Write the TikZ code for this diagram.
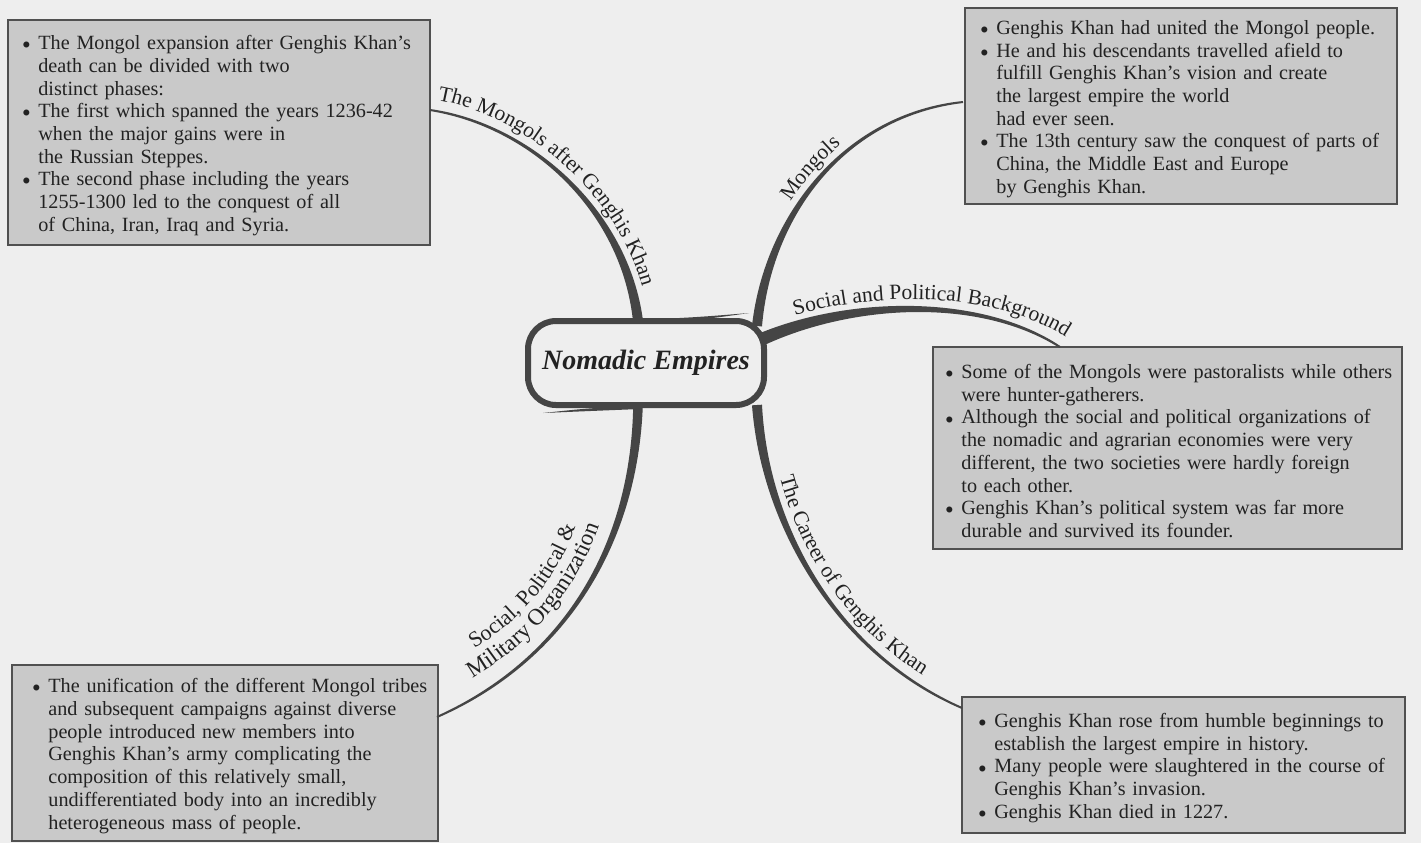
\documentclass[tikz,border=0pt]{standalone}
\usepackage{fontspec}
\setmainfont{Liberation Serif}
\usetikzlibrary{calc,decorations.text}
\definecolor{bgc}{HTML}{EEEEEE}
\definecolor{boxfill}{HTML}{C9C9C9}
\definecolor{boxline}{HTML}{505050}
\definecolor{branchc}{HTML}{454545}
\definecolor{txt}{HTML}{222222}
\newcommand\boxfont{\fontsize{10.1pt}{11.35pt}\selectfont}
\newcommand\labfont{\fontsize{10.8pt}{12pt}\selectfont}
\newcommand\bul{\makebox[8pt][l]{\raisebox{0.1ex}{$\scriptstyle\bullet$}}}
\newcommand\ind{\hspace*{8pt}}
% tapered branch: #1 thin end, #2 #3 controls, #4 thick end, #5-#8 half widths
\newcommand\taper[8]{%
  \fill[branchc] ($(#1)!#5!90:(#2)$) .. controls ($(#2)!#6!-90:(#1)$) and ($(#3)!#7!90:(#4)$) .. ($(#4)!#8!-90:(#3)$)
    -- ($(#4)!#8!90:(#3)$) .. controls ($(#3)!#7!-90:(#4)$) and ($(#2)!#6!90:(#1)$) .. ($(#1)!#5!-90:(#2)$) -- cycle;}
% label along a curve parallel to a branch: #1-#4 branch curve, #5 offset, #6 text, #7 indent
\newcommand\labpath[7]{%
  \path[lab, decoration={text={#6}, text align={left indent=#7}}]
    ($(#1)!#5!90:(#2)$) .. controls ($(#2)!#5!-90:(#1)$) and ($(#3)!#5!90:(#4)$) .. ($(#4)!#5!-90:(#3)$);}
\tikzset{
  infobox/.style={draw=boxline, line width=1pt, fill=boxfill, anchor=north west, outer sep=0pt, inner sep=0pt},
  infotext/.style={anchor=west, text width=240pt, align=left, inner sep=0pt, font=\boxfont, text=txt},
  centre/.style={draw=branchc, line width=3pt, rounded corners=14pt, minimum width=118pt, minimum height=42pt,
     inner sep=0pt, font=\fontsize{14}{16}\selectfont\bfseries\itshape, text=txt},
  lab/.style={decorate, decoration={text along path, text color=txt, raise=0pt}}
}
\begin{document}
\begin{tikzpicture}[x=0.5pt,y=-0.5pt]
\fill[bgc] (0,0) rectangle (1421,843);
\useasboundingbox (0,0) rectangle (1421,843);

% boxes
\node[infobox, minimum width=211pt, minimum height=112.5pt] (tl) at (8,20) {};
\node[infobox, minimum width=216pt, minimum height=98pt] (tr) at (965,8) {};
\node[infobox, minimum width=234.5pt, minimum height=101pt] (mr) at (933,347) {};
\node[infobox, minimum width=213pt, minimum height=88pt] (bl) at (12,665) {};
\node[infobox, minimum width=221.5pt, minimum height=68pt] (br) at (962,697) {};

\node[infotext] (tlt) at ($(tl.west)+(14,3)$) {%
\bul The Mongol expansion after Genghis Khan's\\
\ind death can be divided with two\\
\ind distinct phases:\\
\bul The first which spanned the years 1236-42\\
\ind when the major gains were in\\
\ind the Russian Steppes.\\
\bul The second phase including the years\\
\ind 1255-1300 led to the conquest of all\\
\ind of China, Iran, Iraq and Syria.};

\node[infotext] (trt) at ($(tr.west)+(15,3)$) {%
\bul Genghis Khan had united the Mongol people.\\
\bul He and his descendants travelled afield to\\
\ind fulfill Genghis Khan's vision and create\\
\ind the largest empire the world\\
\ind had ever seen.\\
\bul The 13th century saw the conquest of parts of\\
\ind China, the Middle East and Europe\\
\ind by Genghis Khan.};

\node[infotext] (mrt) at ($(mr.west)+(12,3)$) {%
\bul Some of the Mongols were pastoralists while others\\
\ind were hunter-gatherers.\\
\bul Although the social and political organizations of\\
\ind the nomadic and agrarian economies were very\\
\ind different, the two societies were hardly foreign\\
\ind to each other.\\
\bul Genghis Khan's political system was far more\\
\ind durable and survived its founder.};

\node[infotext] (blt) at ($(bl.west)+(20,3)$) {%
\bul The unification of the different Mongol tribes\\
\ind and subsequent campaigns against diverse\\
\ind people introduced new members into\\
\ind Genghis Khan's army complicating the\\
\ind composition of this relatively small,\\
\ind undifferentiated body into an incredibly\\
\ind heterogeneous mass of people.};

\node[infotext] (brt) at ($(br.west)+(16,3)$) {%
\bul Genghis Khan rose from humble beginnings to\\
\ind establish the largest empire in history.\\
\bul Many people were slaughtered in the course of\\
\ind Genghis Khan's invasion.\\
\bul Genghis Khan died in 1227.};

% central node
\node[centre] (c) at (646,363) {Nomadic Empires};
\fill[branchc] (640,320) .. controls (700,317) .. (749,313) .. controls (700,320) .. (640,323) -- cycle;
\fill[branchc] (640,406) .. controls (590,408) .. (543,413) .. controls (590,411) .. (640,409) -- cycle;

% branch 1
\coordinate (b1s) at ($(tl.north east)+(0,90)$);
\coordinate (b1a) at (530,125);
\coordinate (b1b) at (625,210);
\coordinate (b1e) at ($(c.north)+(-8,3)$);
\taper{b1s}{b1a}{b1b}{b1e}{0.5pt}{0.9pt}{1.7pt}{2.5pt}
\labpath{b1s}{b1a}{b1b}{b1e}{5.5pt}{|\labfont|The Mongols after Genghis Khan}{3pt}

% branch 2
\coordinate (b2s) at ($(tr.north west)+(-2,94)$);
\coordinate (b2a) at (845,115);
\coordinate (b2b) at (768,215);
\coordinate (b2e) at ($(c.north east)+(-10,8)$);
\taper{b2s}{b2a}{b2b}{b2e}{0.5pt}{0.9pt}{1.7pt}{2.5pt}
\labpath{b2e}{b2b}{b2a}{b2s}{5.5pt}{|\labfont|Mongols}{66pt}

% branch 3
\coordinate (b3s) at ($(mr.north west)+(127,0)$);
\coordinate (b3a) at (980,295);
\coordinate (b3b) at (850,300);
\coordinate (b3e) at ($(c.north east)+(-7,22)$);
\taper{b3s}{b3a}{b3b}{b3e}{0.5pt}{1.1pt}{2.2pt}{3.2pt}
\labpath{b3e}{b3b}{b3a}{b3s}{5.5pt}{|\labfont|Social and Political Background}{21pt}

% branch 4
\coordinate (b4s) at ($(br.north west)+(0,11)$);
\coordinate (b4a) at (840,655);
\coordinate (b4b) at (765,530);
\coordinate (b4e) at ($(c.south east)+(-10,-3)$);
\taper{b4s}{b4a}{b4b}{b4e}{0.5pt}{0.9pt}{1.7pt}{2.5pt}
\labpath{b4e}{b4b}{b4a}{b4s}{5.5pt}{|\labfont|The Career of Genghis Khan}{37pt}

% branch 5
\coordinate (b5s) at ($(bl.north east)+(-1,52)$);
\coordinate (b5a) at (565,660);
\coordinate (b5b) at (634,545);
\coordinate (b5e) at ($(c.south)+(-8,-2)$);
\taper{b5s}{b5a}{b5b}{b5e}{0.5pt}{0.9pt}{1.7pt}{2.4pt}
\labpath{b5s}{b5a}{b5b}{b5e}{9pt}{|\fontsize{11.6pt}{13pt}\selectfont|Military Organization}{24pt}
\labpath{b5s}{b5a}{b5b}{b5e}{21.5pt}{|\fontsize{11pt}{12pt}\selectfont|Social, Political {\&}}{31pt}
\end{tikzpicture}
\end{document}
